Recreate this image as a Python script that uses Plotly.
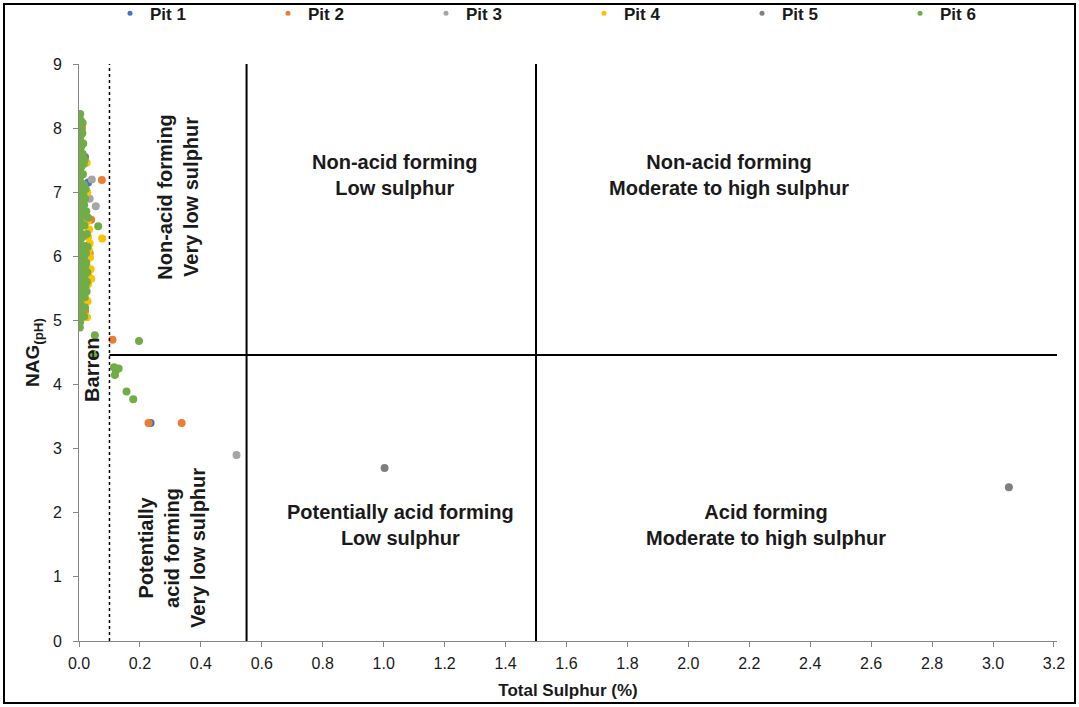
import plotly.graph_objects as go

# ---------------- data ----------------
pit1_x = [0.005, 0.030, 0.002, 0.010, 0.235]
pit1_y = [6.65, 7.15, 5.85, 7.05, 3.40]

pit2_x = [0.075, 0.040, 0.010, 0.020, 0.110, 0.228, 0.337, 0.035]
pit2_y = [7.19, 6.57, 8.00, 5.15, 4.70, 3.40, 3.40, 6.05]

pit3_x = [0.042, 0.035, 0.055, 0.517]
pit3_y = [7.20, 6.90, 6.78, 2.90]

pit4_x = [0.025, 0.076, 0.030, 0.036, 0.030, 0.030, 0.028, 0.003, 0.032,
          0.028, 0.025, 0.040, 0.035, 0.027, 0.012, 0.033, 0.026, 0.038]
pit4_y = [7.46, 6.28, 6.30, 5.98, 5.72, 5.57, 5.30, 5.18, 6.10,
          6.55, 5.85, 5.65, 6.20, 7.00, 5.42, 6.42, 5.05, 5.80]

pit5_x = [1.003, 3.052, 0.020]
pit5_y = [2.70, 2.40, 7.55]

pit6_x = [
    0.004, 0.006, 0.003, 0.008, 0.005, 0.004, 0.007, 0.003, 0.006, 0.004,
    0.008, 0.005, 0.003, 0.007, 0.004, 0.006, 0.003, 0.005, 0.008, 0.004,
    0.006, 0.003, 0.005, 0.007, 0.004, 0.006, 0.003, 0.005, 0.008, 0.004,
    0.006, 0.003, 0.005, 0.007, 0.004, 0.006, 0.003, 0.005, 0.004,
    0.012, 0.011, 0.014, 0.012, 0.015, 0.013, 0.016, 0.014, 0.017, 0.015,
    0.018, 0.016, 0.019, 0.017, 0.020, 0.018, 0.021, 0.019, 0.020, 0.017,
    0.022, 0.024, 0.026, 0.023, 0.027, 0.025, 0.018, 0.020, 0.028, 0.024,
    0.026, 0.030, 0.063, 0.014,
    0.003, 0.052, 0.197, 0.047, 0.115, 0.121, 0.130, 0.118, 0.156, 0.178,
]
pit6_y = [
    8.22, 8.12, 8.04, 7.96, 7.88, 7.80, 7.71, 7.63, 7.55, 7.47,
    7.40, 7.31, 7.22, 7.14, 7.05, 6.97, 6.88, 6.80, 6.71, 6.62,
    6.53, 6.45, 6.36, 6.28, 6.19, 6.10, 6.02, 5.93, 5.85, 5.76,
    5.68, 5.59, 5.50, 5.42, 5.33, 5.25, 5.16, 5.08, 4.98,
    8.08, 7.92, 7.76, 7.60, 7.44, 7.28, 7.12, 6.96, 6.80, 6.64,
    6.48, 6.32, 6.16, 6.00, 5.84, 5.68, 5.52, 5.36, 5.20, 5.06,
    7.05, 6.70, 6.35, 6.05, 5.75, 5.45, 7.50, 6.90, 6.15, 5.90,
    5.60, 6.60, 6.47, 5.07,
    4.89, 4.77, 4.68, 4.48, 4.27, 4.22, 4.25, 4.15, 3.89, 3.77,
]

series = [
    ("Pit 1", pit1_x, pit1_y, "#4472C4"),
    ("Pit 2", pit2_x, pit2_y, "#ED7D31"),
    ("Pit 3", pit3_x, pit3_y, "#A5A5A5"),
    ("Pit 4", pit4_x, pit4_y, "#FFC000"),
    ("Pit 5", pit5_x, pit5_y, "#7F7F7F"),
    ("Pit 6", pit6_x, pit6_y, "#70AD47"),
]

x_ticks = [0.0, 0.2, 0.4, 0.6, 0.8, 1.0, 1.2, 1.4, 1.6, 1.8, 2.0, 2.2, 2.4, 2.6, 2.8, 3.0, 3.2]
y_ticks = [0, 1, 2, 3, 4, 5, 6, 7, 8, 9]

barren_s = 0.1
low_s = 0.55
high_s = 1.5
nag_limit = 4.46

FONT = "Liberation Sans, Arial, sans-serif"

fig = go.Figure()
for name, xs, ys, col in series:
    fig.add_trace(go.Scatter(
        x=xs, y=ys, mode="markers", name=f"<b>{name}</b>", legendgroup=name,
        showlegend=False,
        marker=dict(color=col, size=8, line=dict(width=0)),
    ))
# legend entries with the small legend markers of the reference
for name, xs, ys, col in series:
    fig.add_trace(go.Scatter(
        x=[None], y=[None], mode="markers", name=f"<b>{name}</b>", legendgroup=name,
        marker=dict(color=col, size=5, line=dict(width=0)),
    ))

# classification lines
fig.add_shape(type="line", xref="x", yref="y", x0=barren_s, x1=barren_s, y0=0, y1=9,
              line=dict(color="black", width=1.5, dash="dot"))
fig.add_shape(type="line", xref="x", yref="y", x0=low_s, x1=low_s, y0=0, y1=9,
              line=dict(color="black", width=2))
fig.add_shape(type="line", xref="x", yref="y", x0=high_s, x1=high_s, y0=0, y1=9,
              line=dict(color="black", width=2))
fig.add_shape(type="line", xref="x", yref="y", x0=barren_s, x1=3.21, y0=nag_limit, y1=nag_limit,
              line=dict(color="black", width=2))

# outer frame (plot area: x 79..1057, y 64..641)
fig.add_shape(type="rect", xref="paper", yref="paper",
              x0=(4 - 79) / 978, x1=(1075 - 79) / 978,
              y0=(641 - 703) / 577, y1=(641 - 4) / 577,
              line=dict(color="black", width=2), fillcolor="rgba(0,0,0,0)")

ann_font = dict(family=FONT, size=20, color="#1a1a1a")
labels = [
    (0.325, 6.93, "<b>Non-acid forming<br>Very low sulphur</b>", -90),
    (1.036, 7.27, "<b>Non-acid forming<br>Low sulphur</b>", 0),
    (2.134, 7.27, "<b>Non-acid forming<br>Moderate to high sulphur</b>", 0),
    (0.043, 4.23, "<b>Barren</b>", -90),
    (0.305, 1.45, "<b>Potentially<br>acid forming<br>Very low sulphur</b>", -90),
    (1.056, 1.81, "<b>Potentially acid forming<br>Low sulphur</b>", 0),
    (2.256, 1.81, "<b>Acid forming<br>Moderate to high sulphur</b>", 0),
]
for x, y, t, ang in labels:
    fig.add_annotation(x=x, y=y, xref="x", yref="y", text=t, showarrow=False,
                       textangle=ang, font=ann_font, align="center")

fig.update_layout(
    width=1079, height=707,
    margin=dict(l=79, r=22, t=64, b=66, autoexpand=False),
    paper_bgcolor="white", plot_bgcolor="white",
    font=dict(family=FONT, size=15, color="#1a1a1a"),
    showlegend=True,
    legend=dict(orientation="h", x=0.0317, y=1.087, xanchor="left", yanchor="middle",
                entrywidth=113, entrywidthmode="pixels",
                font=dict(family=FONT, size=17, color="#1a1a1a"),
                bgcolor="rgba(0,0,0,0)", itemclick=False, itemdoubleclick=False),
    xaxis=dict(range=[0, 3.21], tickvals=x_ticks, ticktext=[f"{v:.1f}" for v in x_ticks],
               showgrid=False, zeroline=False, showline=True, linecolor="#868686", linewidth=1,
               ticks="outside", ticklen=5, tickcolor="#868686", ticklabelstandoff=3,
               tickfont=dict(family=FONT, size=16, color="#1a1a1a"),
               title=dict(text="<b>Total Sulphur (%)</b>", font=dict(family=FONT, size=17), standoff=12)),
    yaxis=dict(range=[0, 9], tickvals=y_ticks, showgrid=False, zeroline=False,
               showline=True, linecolor="#868686", linewidth=1,
               ticks="outside", ticklen=5, tickcolor="#868686", ticklabelstandoff=8,
               tickfont=dict(family=FONT, size=16, color="#1a1a1a"),
               title=dict(text="<b>NAG<sub>(pH)</sub></b>", font=dict(family=FONT, size=19), standoff=8)),
)

fig.write_html("out.html", config={"displayModeBar": False},
               post_script="document.body.style.margin='0';")
